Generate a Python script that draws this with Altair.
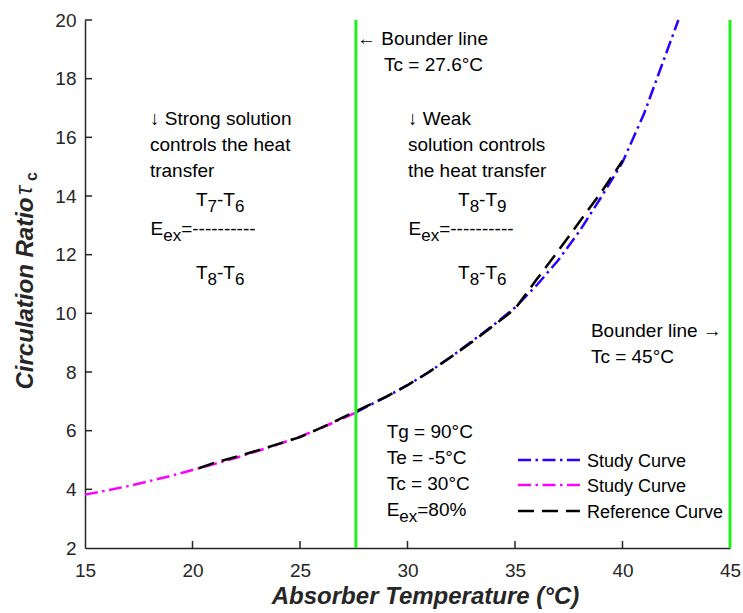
import altair as alt
import pandas as pd

# ---------------- data ----------------
study_low_x = [15, 16, 17, 18, 19, 20, 21, 22, 23, 24, 25, 26, 27, 27.6]
study_low_y = [3.82, 3.96, 4.11, 4.28, 4.46, 4.66, 4.86, 5.07, 5.30, 5.54, 5.80, 6.10, 6.42, 6.62]

study_high_x = [27.6, 28, 29, 30, 31, 32, 33, 34, 35, 36, 37, 38, 39, 40, 41, 42, 42.6]
study_high_y = [6.62, 6.78, 7.15, 7.55, 8.00, 8.50, 9.05, 9.60, 10.20, 10.95, 11.80, 12.80, 13.95, 15.15, 16.80, 18.80, 20.0]

ref_x = [20.3, 21, 22, 23, 24, 25, 26, 27, 28, 29, 30, 31, 32, 33, 34, 35, 36, 37, 38, 39, 40]
ref_y = [4.72, 4.90, 5.10, 5.32, 5.55, 5.78, 6.10, 6.45, 6.80, 7.15, 7.55, 8.00, 8.50, 9.02, 9.58, 10.15, 11.15, 12.12, 13.12, 14.12, 15.20]

boundary_x = [27.6, 45]
x_ticks = [15, 20, 25, 30, 35, 40, 45]
y_ticks = [2, 4, 6, 8, 10, 12, 14, 16, 18, 20]

legend_labels = ["Study Curve", "Study Curve", "Reference Curve"]

# ---------------- style ----------------
FONT = "Liberation Sans"
INK = "#262626"
BLUE = "#2a00ff"
MAGENTA = "#ff00ff"
BLACK = "#000000"
GREEN = "#22ee22"
DASHDOT = [13, 4.5, 2.5, 4.5]
DASHED = [16, 8]
W, H = 645, 528
FS = 19
SUB = 17

xs = alt.Scale(domain=[15, 45], nice=False, zero=False)
ys = alt.Scale(domain=[2, 20], nice=False, zero=False)

xaxis = alt.Axis(
    values=x_ticks, ticks=False, grid=False, domainColor=INK, domainWidth=1.5,
    labelFont=FONT, labelFontSize=FS, labelColor=INK, labelPadding=13, labelFlush=False,
    title="Absorber Temperature (°C)", titleFont=FONT, titleFontSize=24,
    titleFontWeight="bold", titleFontStyle="italic", titleColor=INK,
    titleX=340, titleY=55, titleAlign="center", titleBaseline="alphabetic",
)
yaxis = alt.Axis(
    values=y_ticks, ticks=False, grid=False, domainColor=INK, domainWidth=1.5,
    labelFont=FONT, labelFontSize=FS, labelColor=INK, labelPadding=9, labelFlush=False,
    title="Circulation Ratio", titleFont=FONT, titleFontSize=24,
    titleFontWeight="bold", titleFontStyle="italic", titleColor=INK,
    titleAngle=270, titleAlign="right", titleBaseline="alphabetic",
    titleX=-53, titleY=177,
)


def fx(field):
    return alt.X(field, scale=xs, axis=xaxis)


def fy(field):
    return alt.Y(field, scale=ys, axis=yaxis)


def dx_(x):
    return alt.X(datum=x, type="quantitative", scale=xs, axis=xaxis)


def dy_(y):
    return alt.Y(datum=y, type="quantitative", scale=ys, axis=yaxis)


def curve(xv, yv, color, dash):
    df = pd.DataFrame({"x": xv, "y": yv})
    return alt.Chart(df).mark_line(
        color=color, strokeDash=dash, strokeWidth=2.5, strokeCap="butt"
    ).encode(x=fx("x:Q"), y=fy("y:Q"))


def one():
    return pd.DataFrame({"k": [0]})


def label(x, y, s, size=FS, dx=0, dy=0):
    return alt.Chart(one()).mark_text(
        text=s, font=FONT, fontSize=size, color=BLACK, align="left",
        baseline="alphabetic", dx=dx, dy=dy,
    ).encode(x=dx_(x), y=dy_(y))


AW = {"T": 611, "-": 333, "E": 667, "e": 556, "x": 500, "=": 584, "%": 889,
      " ": 278, "C": 722, "°": 400}
for d in "0123456789":
    AW[d] = 556


def width(s, fs):
    return sum(AW[c] for c in s) / 1000 * fs


def rich(x, y, parts):
    out = []
    off = 0.0
    for s, sub in parts:
        fs = SUB if sub else FS
        out.append(label(x, y, s, size=fs, dx=off, dy=6 if sub else 0))
        off += width(s, fs)
    return out


layers = []
layers.append(curve(study_low_x, study_low_y, MAGENTA, DASHDOT))
layers.append(curve(study_high_x, study_high_y, BLUE, DASHDOT))
layers.append(curve(ref_x, ref_y, BLACK, DASHED))

# inward ticks
xt = pd.DataFrame({"x": x_ticks[1:]})
layers.append(alt.Chart(xt).mark_rule(color=INK, strokeWidth=1.5).encode(
    x=fx("x:Q"), y=dy_(2), y2=alt.Y2(datum=2.24)))
yt = pd.DataFrame({"y": y_ticks[1:]})
layers.append(alt.Chart(yt).mark_rule(color=INK, strokeWidth=1.5).encode(
    y=fy("y:Q"), x=dx_(15), x2=alt.X2(datum=15.33)))

# boundary lines
bd = pd.DataFrame({"x": boundary_x})
layers.append(alt.Chart(bd).mark_rule(color=GREEN, strokeWidth=3).encode(
    x=fx("x:Q"), y=dy_(2), y2=alt.Y2(datum=20)))

# legend (manual)
leg_styles = [(BLUE, DASHDOT), (MAGENTA, DASHDOT), (BLACK, DASHED)]
leg_line_y = [5.0, 4.15, 3.26]
leg_text_y = [4.76, 3.91, 3.02]
for (col, dash), ly, ty, lab in zip(leg_styles, leg_line_y, leg_text_y, legend_labels):
    layers.append(alt.Chart(one()).mark_rule(color=col, strokeDash=dash, strokeWidth=2.5,
                                              strokeCap="butt").encode(
        x=dx_(35.14), x2=alt.X2(datum=38.02), y=dy_(ly)))
    layers.append(label(38.35, ty, lab, size=18))

# annotations: left block
layers.append(label(18.02, 16.42, "↓ Strong solution"))
layers.append(label(18.02, 15.53, "controls the heat"))
layers.append(label(18.02, 14.65, "transfer"))
layers += rich(20.16, 13.66, [("T", False), ("7", True), ("-T", False), ("6", True)])
layers += rich(18.05, 12.67, [("E", False), ("ex", True), ("=----------", False)])
layers += rich(20.16, 11.17, [("T", False), ("8", True), ("-T", False), ("6", True)])

# middle block
layers.append(label(30.02, 16.42, "↓ Weak"))
layers.append(label(30.02, 15.53, "solution controls"))
layers.append(label(30.02, 14.65, "the heat transfer"))
layers += rich(32.35, 13.66, [("T", False), ("8", True), ("-T", False), ("9", True)])
layers += rich(30.05, 12.67, [("E", False), ("ex", True), ("=----------", False)])
layers += rich(32.35, 11.17, [("T", False), ("8", True), ("-T", False), ("6", True)])

# boundary labels
layers.append(label(27.65, 19.15, "← Bounder line"))
layers.append(label(28.91, 18.26, "Tc = 27.6°C"))
layers.append(label(38.53, 9.19, "Bounder line →"))
layers.append(label(38.53, 8.31, "Tc = 45°C"))

# parameters
layers.append(label(29.03, 5.75, "Tg = 90°C"))
layers.append(label(29.03, 4.86, "Te = -5°C"))
layers.append(label(29.03, 3.98, "Tc = 30°C"))
layers += rich(29.03, 3.09, [("E", False), ("ex", True), ("=80%", False)])

# y-title tail: tau and subscript c
layers.append(alt.Chart(one()).mark_text(
    text="τ", font=FONT, fontSize=24, fontStyle="italic", color=INK, angle=270,
    align="left", baseline="alphabetic").encode(x=alt.value(-53), y=alt.value(175)))
layers.append(alt.Chart(one()).mark_text(
    text="c", font=FONT, fontSize=16, fontWeight="bold", color=INK, angle=270,
    align="left", baseline="alphabetic").encode(x=alt.value(-48), y=alt.value(161)))

chart = alt.layer(*layers).properties(
    width=W, height=H,
    autosize=alt.AutoSizeParams(type="none"),
    padding={"left": 85, "top": 20, "right": 13, "bottom": 65},
    background="white",
).configure_view(stroke=None)

chart.save("out.html", embed_options={"renderer": "svg", "actions": False})
